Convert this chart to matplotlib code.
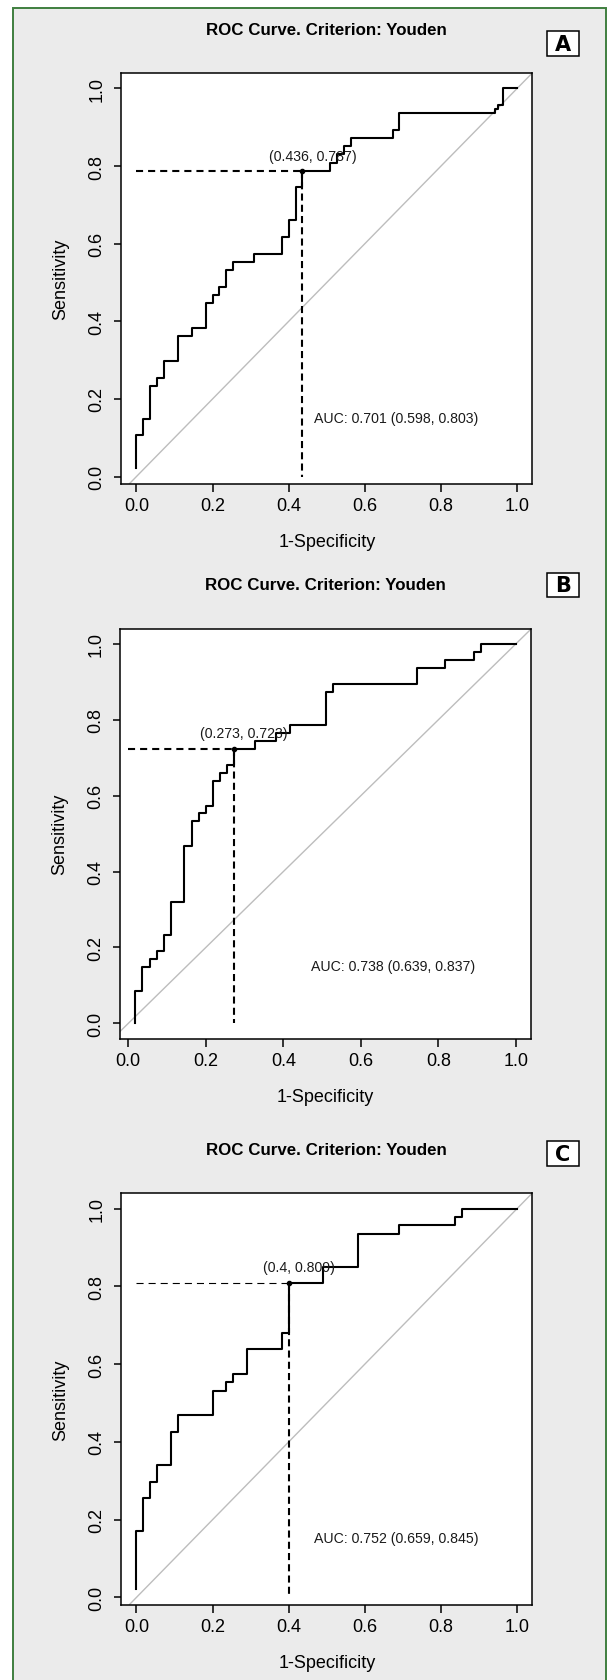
import matplotlib
matplotlib.use('Agg')
import matplotlib.pyplot as plt
from matplotlib.patches import Rectangle

plt.rcParams['font.family'] = ['Liberation Sans', 'DejaVu Sans']

# ROC staircase points (1-specificity, sensitivity)
fpr_a = [0.000, 0.000, 0.018, 0.036, 0.055, 0.073, 0.109, 0.145, 0.182, 0.200,
         0.218, 0.236, 0.255, 0.309, 0.382, 0.400, 0.418, 0.436, 0.509, 0.527,
         0.545, 0.564, 0.673, 0.691, 0.942, 0.951, 0.962, 1.000]
tpr_a = [0.021, 0.106, 0.149, 0.234, 0.255, 0.298, 0.362, 0.383, 0.447, 0.468,
         0.489, 0.532, 0.553, 0.574, 0.617, 0.660, 0.745, 0.787, 0.809, 0.830,
         0.851, 0.872, 0.894, 0.936, 0.947, 0.957, 1.000, 1.000]

fpr_b = [0.018, 0.018, 0.036, 0.055, 0.073, 0.091, 0.109, 0.145, 0.164, 0.182,
         0.200, 0.218, 0.236, 0.255, 0.273, 0.327, 0.382, 0.418, 0.509, 0.527,
         0.745, 0.818, 0.891, 0.909, 1.000]
tpr_b = [0.000, 0.085, 0.149, 0.170, 0.191, 0.234, 0.319, 0.468, 0.532, 0.553,
         0.574, 0.638, 0.660, 0.681, 0.723, 0.745, 0.766, 0.787, 0.872, 0.894,
         0.936, 0.957, 0.979, 1.000, 1.000]

fpr_c = [0.000, 0.000, 0.018, 0.036, 0.055, 0.091, 0.109, 0.200, 0.236, 0.255,
         0.291, 0.382, 0.400, 0.491, 0.582, 0.691, 0.836, 0.855, 1.000]
tpr_c = [0.021, 0.170, 0.255, 0.298, 0.340, 0.426, 0.468, 0.532, 0.553, 0.574,
         0.638, 0.681, 0.809, 0.851, 0.936, 0.957, 0.979, 1.000, 1.000]

# Youden thresholds and AUC labels
thr_x = [0.436, 0.273, 0.4]
thr_y = [0.787, 0.723, 0.809]
thr_labels = ['(0.436, 0.787)', '(0.273, 0.723)', '(0.4, 0.809)']
auc_labels = ['AUC: 0.701 (0.598, 0.803)', 'AUC: 0.738 (0.639, 0.837)',
              'AUC: 0.752 (0.659, 0.845)']
panel_letters = ['A', 'B', 'C']
tick_vals = [0.0, 0.2, 0.4, 0.6, 0.8, 1.0]
tick_labels = ['0.0', '0.2', '0.4', '0.6', '0.8', '1.0']

curves = [(fpr_a, tpr_a), (fpr_b, tpr_b), (fpr_c, tpr_c)]

W, H = 607, 1681
fig = plt.figure(figsize=(W / 100, H / 100), dpi=100)
fig.patch.set_facecolor('white')

# grey background with green frame
frame = Rectangle((12.7 / W, 1 - 1700 / H), (606.3 - 12.7) / W, (1700 - 9) / H,
                  transform=fig.transFigure, facecolor='#ebebeb',
                  edgecolor='#3f7f3f', lw=1.4, zorder=0)
fig.add_artist(frame)

boxes = [(121.2, 74.3, 532.3, 484.6), (120.0, 629.6, 531.2, 1039.6),
         (121.2, 1194.4, 532.3, 1605.5)]
title_y = [30.4, 585.0, 1150.4]
letter_y = [(32.3, 57.3), (573.6, 598.2), (1142.2, 1167.2)]
hdash_lw = [1.5, 1.5, 0.8]


def r_lim(v):
    lo, hi = min(v), max(v)
    ext = 0.04 * (hi - lo)
    return lo - ext, hi + ext


for i, (fpr, tpr) in enumerate(curves):
    x0, y0, x1, y1 = boxes[i]
    ax = fig.add_axes([x0 / W, 1 - y1 / H, (x1 - x0) / W, (y1 - y0) / H])
    ax.set_facecolor('white')
    ax.set_xlim(*r_lim(fpr))
    ax.set_ylim(*r_lim(tpr))

    ax.axline((0, 0), (1, 1), color='#bdbdbd', lw=1.0, zorder=1)
    ax.plot(fpr, tpr, drawstyle='steps-post', color='black', lw=1.5, zorder=3)

    tx, ty = thr_x[i], thr_y[i]
    hl = hdash_lw[i]
    ax.plot([0, tx], [ty, ty], color='black', lw=hl,
            ls=(0, (3.4 * 1.5 / hl, 2.4 * 1.5 / hl)), zorder=2)
    ax.plot([tx, tx], [ty, 0], color='black', lw=1.5, ls=(0, (3.4, 2)), zorder=2)
    ax.plot(tx, ty, 'o', ms=3, color='black', zorder=4)
    ax.annotate(thr_labels[i], (tx, ty), xytext=(7.2, 11.2),
                textcoords='offset points', ha='center', va='center',
                fontsize=10.2, color='#1a1a1a', zorder=5)
    ax.text(0.682, 0.152, auc_labels[i], ha='center', va='center',
            fontsize=10.2, color='#1a1a1a')

    ax.set_xticks(tick_vals)
    ax.set_xticklabels(tick_labels)
    ax.set_yticks(tick_vals)
    ax.set_yticklabels(tick_labels)
    ax.tick_params(direction='out', length=5.4, width=1.1, labelsize=13,
                   colors='black')
    ax.tick_params(axis='x', pad=4.5)
    ax.tick_params(axis='y', pad=6, labelrotation=90)
    for lbl in ax.get_yticklabels():
        lbl.set_va('center')
    for sp in ax.spines.values():
        sp.set_linewidth(1.1)
        sp.set_color('black')

    ax.set_xlabel('1-Specificity', fontsize=13, va='center')
    ax.set_ylabel('Sensitivity', fontsize=13, va='center')
    ax.xaxis.set_label_coords(0.5, -58.3 / (y1 - y0))
    ax.yaxis.set_label_coords(-60.0 / (x1 - x0), 0.5)

    cx = (x0 + x1) / 2
    fig.text(cx / W, 1 - title_y[i] / H, 'ROC Curve. Criterion: Youden',
             ha='center', va='center', fontsize=12.2, fontweight='bold')

    ly0, ly1 = letter_y[i]
    fig.add_artist(Rectangle((546.7 / W, 1 - ly1 / H), (578.7 - 546.7) / W,
                             (ly1 - ly0) / H, transform=fig.transFigure,
                             facecolor='white', edgecolor='black', lw=1.1))
    fig.text(562.7 / W, 1 - (ly0 + ly1) / 2 / H, panel_letters[i],
             ha='center', va='center', fontsize=15, fontweight='bold',
             family=['Liberation Sans Narrow', 'DejaVu Sans'])

fig.savefig('out.png', dpi=100, facecolor=fig.get_facecolor())
